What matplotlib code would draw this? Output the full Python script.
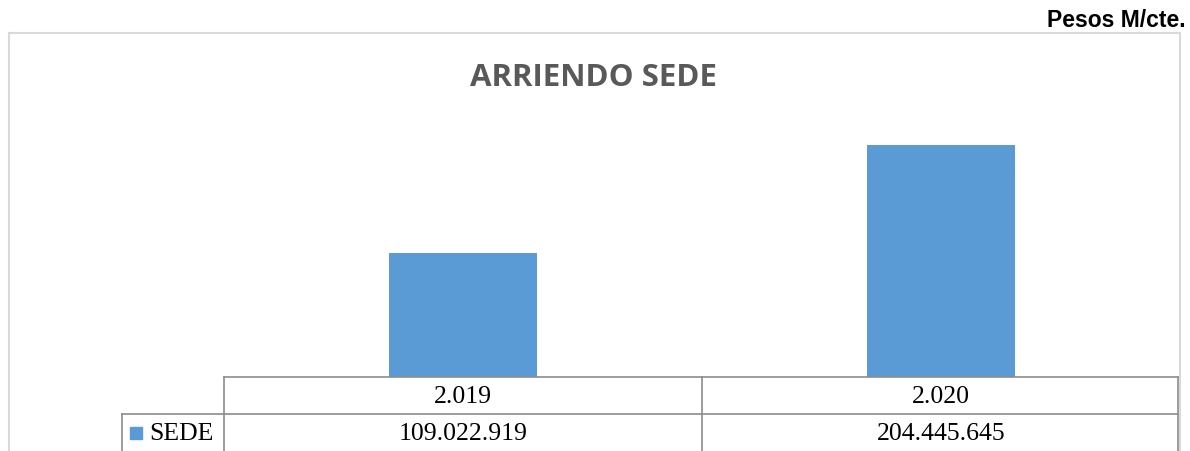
import matplotlib
matplotlib.use("Agg")
import matplotlib.pyplot as plt
from matplotlib.lines import Line2D
from matplotlib.patches import Rectangle

# data
years = ["2.019", "2.020"]
values = [109022919, 204445645]
series_name = "SEDE"
value_labels = ["109.022.919", "204.445.645"]

W, H = 1190, 452
BAR_COLOR = "#5b9bd5"
GRID = "#8c8c8c"

fig = plt.figure(figsize=(W / 100, H / 100), dpi=100)


def fx(px):
    return px / W


def fy(py):
    return 1 - py / H


def hline(y, x0, x1, color=GRID, lw=1.2):
    fig.add_artist(Line2D([fx(x0), fx(x1)], [fy(y), fy(y)], color=color, lw=lw))


def vline(x, y0, y1, color=GRID, lw=1.2):
    fig.add_artist(Line2D([fx(x), fx(x)], [fy(y0), fy(y1)], color=color, lw=lw))


# chart border (bottom cut off)
border = "#d9d9d9"
hline(34, 9, 1180, color=border, lw=1.5)
vline(9, 34, H + 5, color=border, lw=1.5)
vline(1180, 34, H + 5, color=border, lw=1.5)

# bars: plot area x 224..1180, baseline at y=378
ax = fig.add_axes([fx(224), fy(378), fx(1180) - fx(224), (378 - 94) / H])
ax.bar(range(len(values)), values, width=0.31, color=BAR_COLOR)
ax.set_xlim(-0.5, len(values) - 0.5)
ax.set_ylim(0, 250e6)
ax.axis("off")

# title and units
fig.text(fx(593), fy(78), "ARRIENDO SEDE", ha="center", va="center",
         fontsize=22.5, fontweight="bold", color="#595959", family="Open Sans")
fig.text(fx(1186), fy(27), "Pesos M/cte.", ha="right", va="baseline",
         fontsize=16.5, fontweight="bold", color="black", family="Liberation Sans")

# data table
hline(378, 224, 1178)
hline(415, 122, 1178)
vline(224, 378, H + 5)
vline(702, 378, H + 5)
vline(1178, 378, H + 5)
vline(122, 415, H + 5)

col_centers = [463, 941]
for cx, yr, lab in zip(col_centers, years, value_labels):
    fig.text(fx(cx), fy(397), yr, ha="center", va="center",
             fontsize=18.5, family="Liberation Serif")
    fig.text(fx(cx), fy(434), lab, ha="center", va="center",
             fontsize=18.5, family="Liberation Serif")

fig.add_artist(Rectangle((fx(130), fy(440)), fx(12), 12 / H,
                         color=BAR_COLOR, transform=fig.transFigure))
fig.text(fx(149), fy(434), series_name, ha="left", va="center",
         fontsize=18.5, family="Liberation Serif")

fig.savefig("out.png", dpi=100)
